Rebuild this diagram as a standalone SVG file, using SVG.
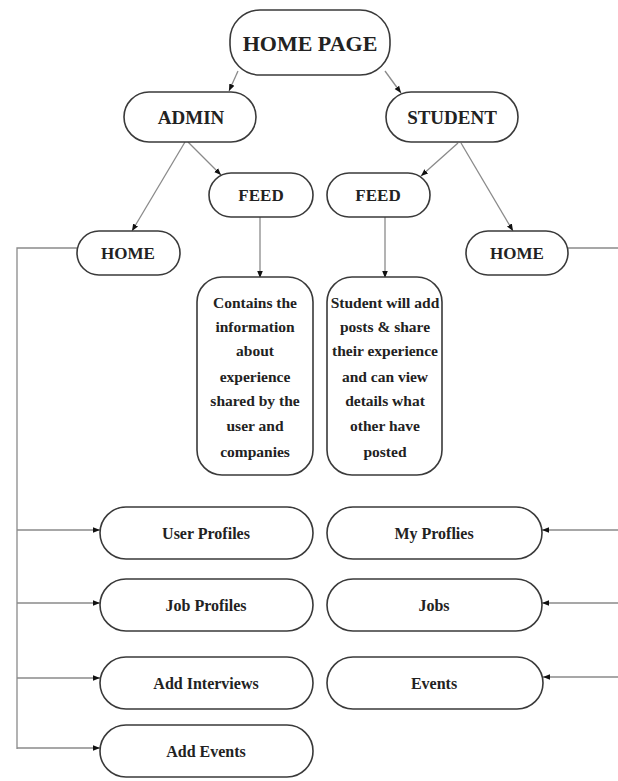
<svg xmlns="http://www.w3.org/2000/svg" width="618" height="781" viewBox="0 0 618 781">
<style>
.box{fill:#fff;stroke:#3a3a3a;stroke-width:1.6}
.t{font-family:"Liberation Serif","Times New Roman",serif;font-weight:bold;fill:#222;text-anchor:middle;dominant-baseline:central}
.con{fill:none;stroke:#8a8a8a;stroke-width:1.3}
.arr{marker-end:url(#ah)}
</style>
<defs>
<marker id="ah" viewBox="0 0 10 10" refX="10" refY="5" markerWidth="7" markerHeight="7" orient="auto" markerUnits="userSpaceOnUse">
<path d="M0,1 L10,5 L0,9 z" fill="#111"/>
</marker>
</defs>
<rect width="618" height="781" fill="#fff"/>
<g id="connectors">
<line class="con arr" x1="238" y1="71" x2="229" y2="91"/>
<line class="con arr" x1="385" y1="71" x2="401" y2="93"/>
<line class="con arr" x1="185" y1="142" x2="132" y2="231"/>
<line class="con arr" x1="188" y1="142" x2="221" y2="175"/>
<line class="con arr" x1="458" y1="143" x2="421" y2="176"/>
<line class="con arr" x1="461" y1="143" x2="513" y2="231"/>
<line class="con arr" x1="260" y1="217" x2="260" y2="278"/>
<line class="con arr" x1="385" y1="217" x2="385" y2="278"/>
<polyline class="con" points="77,248 17,248 17,749"/>
<line class="con arr" x1="17" y1="530" x2="100" y2="530"/>
<line class="con arr" x1="17" y1="603" x2="100" y2="603"/>
<line class="con arr" x1="17" y1="678" x2="100" y2="678"/>
<line class="con arr" x1="17" y1="748" x2="100" y2="748"/>
<polyline class="con" points="568,248 621,248 621,677"/>
<line class="con arr" x1="621" y1="530" x2="542" y2="530"/>
<line class="con arr" x1="621" y1="603" x2="542" y2="603"/>
<line class="con arr" x1="621" y1="677" x2="543" y2="677"/>
</g>
<g id="homepage"><rect class="box" x="230" y="10" width="160" height="65" rx="30"/><text class="t" x="310" y="43" font-size="22">HOME PAGE</text></g>
<g id="admin"><rect class="box" x="124" y="92" width="132" height="50" rx="25"/><text class="t" x="191" y="117" font-size="19">ADMIN</text></g>
<g id="student"><rect class="box" x="386" y="92" width="132" height="50" rx="25"/><text class="t" x="452" y="117" font-size="19">STUDENT</text></g>
<g id="admin-feed"><rect class="box" x="209" y="173" width="104" height="44" rx="22"/><text class="t" x="261" y="195" font-size="17">FEED</text></g>
<g id="student-feed"><rect class="box" x="327" y="173" width="103" height="44" rx="22"/><text class="t" x="378" y="195" font-size="17">FEED</text></g>
<g id="admin-home"><rect class="box" x="77" y="231" width="103" height="44" rx="22"/><text class="t" x="128" y="253" font-size="17">HOME</text></g>
<g id="student-home"><rect class="box" x="466" y="231" width="102" height="44" rx="22"/><text class="t" x="517" y="253" font-size="17">HOME</text></g>
<g id="admin-feed-desc"><rect class="box" x="197" y="277" width="116" height="198" rx="25"/>
<text class="t" font-size="15.5"><tspan x="255" y="302">Contains the</tspan><tspan x="255" y="326">information</tspan><tspan x="255" y="350">about</tspan><tspan x="255" y="376">experience</tspan><tspan x="255" y="400">shared by the</tspan><tspan x="255" y="425">user and</tspan><tspan x="255" y="451">companies</tspan></text></g>
<g id="student-feed-desc"><rect class="box" x="327" y="277" width="115" height="198" rx="25"/>
<text class="t" font-size="15.5"><tspan x="385" y="302">Student will add</tspan><tspan x="385" y="326">posts &amp; share</tspan><tspan x="385" y="350">their experience</tspan><tspan x="385" y="376">and can view</tspan><tspan x="385" y="400">details what</tspan><tspan x="385" y="425">other have</tspan><tspan x="385" y="451">posted</tspan></text></g>
<g id="user-profiles"><rect class="box" x="100" y="507" width="213" height="52" rx="26"/><text class="t" x="206" y="533" font-size="16">User Profiles</text></g>
<g id="job-profiles"><rect class="box" x="100" y="579" width="213" height="52" rx="26"/><text class="t" x="206" y="605" font-size="16">Job Profiles</text></g>
<g id="add-interviews"><rect class="box" x="100" y="657" width="213" height="52" rx="26"/><text class="t" x="206" y="683" font-size="16">Add Interviews</text></g>
<g id="add-events"><rect class="box" x="100" y="725" width="213" height="52" rx="26"/><text class="t" x="206" y="751" font-size="16">Add Events</text></g>
<g id="my-profiles"><rect class="box" x="327" y="507" width="215" height="52" rx="26"/><text class="t" x="434" y="533" font-size="16">My Proflies</text></g>
<g id="jobs"><rect class="box" x="327" y="579" width="215" height="52" rx="26"/><text class="t" x="434" y="605" font-size="16">Jobs</text></g>
<g id="events"><rect class="box" x="327" y="657" width="216" height="52" rx="26"/><text class="t" x="434" y="683" font-size="16">Events</text></g>
</svg>
